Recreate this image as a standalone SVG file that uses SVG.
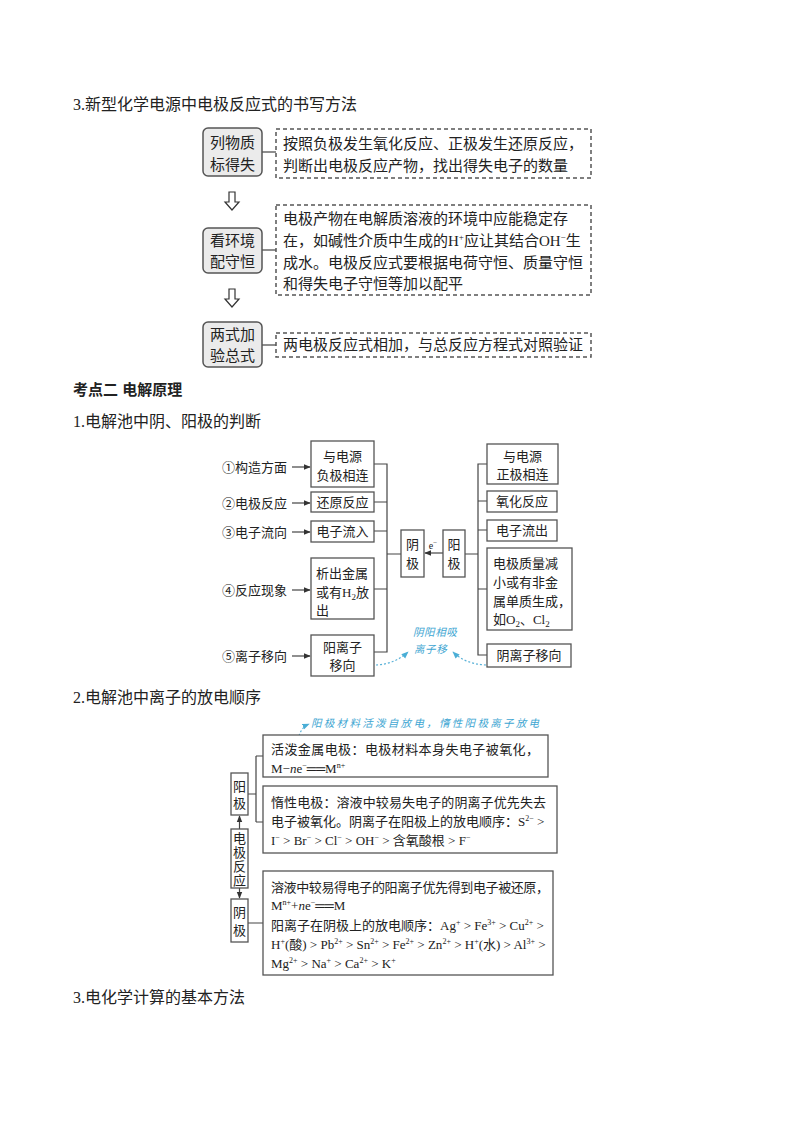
<svg xmlns="http://www.w3.org/2000/svg" width="794" height="1124" viewBox="0 0 794 1124">
<defs>
<style>
.t{font-family:"Liberation Serif","Noto Sans CJK SC",serif;fill:#222}
.h{font-size:16px}
.b15{font-size:15px}
.s13{font-size:13px}
.bold{font-family:"Liberation Sans","Noto Sans CJK SC",sans-serif;font-weight:bold;font-size:15px;fill:#222}
.gbox{fill:#ebebeb;stroke:#555;stroke-width:1.5}
.dbox{fill:none;stroke:#555;stroke-width:1.5;stroke-dasharray:4 3}
.box{fill:#fff;stroke:#555;stroke-width:1.3}
.ln{fill:none;stroke:#444;stroke-width:1.2}
.blue{font-family:"Noto Sans CJK SC",sans-serif;font-size:10.5px;fill:#3ea6d2;font-style:italic}
.bl{fill:none;stroke:#5ab2d8;stroke-width:1.2;stroke-dasharray:2 2}
.mid{text-anchor:middle}
</style>
<marker id="ah" viewBox="0 0 10 10" refX="9" refY="5" markerWidth="6" markerHeight="6" orient="auto-start-reverse">
<path d="M0,1 L10,5 L0,9 z" fill="#333"/>
</marker>
<marker id="bh" viewBox="0 0 10 10" refX="9" refY="5" markerWidth="6" markerHeight="6" orient="auto">
<path d="M0,1 L10,5 L0,9 z" fill="#4aaed6"/>
</marker>
</defs>
<rect width="794" height="1124" fill="#fff"/>

<!-- headings -->
<text class="t h" x="73" y="110">3.新型化学电源中电极反应式的书写方法</text>
<text class="bold" x="73" y="395">考点二 电解原理</text>
<text class="t h" x="73" y="427">1.电解池中阴、阳极的判断</text>
<text class="t h" x="73" y="703">2.电解池中离子的放电顺序</text>
<text class="t h" x="73" y="1003">3.电化学计算的基本方法</text>

<!-- Section 1 -->
<g id="connectors1">
<line class="ln" x1="262" y1="152" x2="276" y2="152"/>
<line class="ln" x1="262" y1="250" x2="276" y2="250"/>
<line class="ln" x1="262" y1="345" x2="276" y2="345"/>
<path d="M229,192 h6 v10 h4 l-7,8 l-7,-8 h4 z" fill="#fff" stroke="#333" stroke-width="1.2"/>
<path d="M229,289 h6 v10 h4 l-7,8 l-7,-8 h4 z" fill="#fff" stroke="#333" stroke-width="1.2"/>
</g>
<g id="step1">
<rect class="gbox" x="203" y="128" width="59" height="48" rx="5"/>
<text class="t b15 mid" x="232.5" y="148">列物质</text>
<text class="t b15 mid" x="232.5" y="170">标得失</text>
</g>
<g id="desc1">
<rect class="dbox" x="276" y="129" width="315" height="49"/>
<text class="t b15" x="283" y="149">按照负极发生氧化反应、正极发生还原反应，</text>
<text class="t b15" x="283" y="171">判断出电极反应产物，找出得失电子的数量</text>
</g>
<g id="step2">
<rect class="gbox" x="203" y="228" width="59" height="45" rx="5"/>
<text class="t b15 mid" x="232.5" y="246">看环境</text>
<text class="t b15 mid" x="232.5" y="267">配守恒</text>
</g>
<g id="desc2">
<rect class="dbox" x="276" y="205" width="315" height="90"/>
<text class="t b15" x="283" y="224">电极产物在电解质溶液的环境中应能稳定存</text>
<text class="t b15" x="283" y="246">在，如碱性介质中生成的H<tspan dy="-6" font-size="9">+</tspan><tspan dy="6">应让其结合OH</tspan><tspan dy="-6" font-size="9">−</tspan><tspan dy="6">生</tspan></text>
<text class="t b15" x="283" y="268">成水。电极反应式要根据电荷守恒、质量守恒</text>
<text class="t b15" x="283" y="289">和得失电子守恒等加以配平</text>
</g>
<g id="step3">
<rect class="gbox" x="203" y="322" width="59" height="45" rx="5"/>
<text class="t b15 mid" x="232.5" y="340">两式加</text>
<text class="t b15 mid" x="232.5" y="361">验总式</text>
</g>
<g id="desc3">
<rect class="dbox" x="276" y="333" width="315" height="24"/>
<text class="t b15" x="283" y="350">两电极反应式相加，与总反应方程式对照验证</text>
</g>

<!-- Section 2 diagram -->
<g id="connectors2">
<line class="ln" x1="292" y1="467" x2="310" y2="467" marker-end="url(#ah)"/>
<line class="ln" x1="292" y1="503" x2="310" y2="503" marker-end="url(#ah)"/>
<line class="ln" x1="292" y1="532" x2="310" y2="532" marker-end="url(#ah)"/>
<line class="ln" x1="292" y1="590" x2="310" y2="590" marker-end="url(#ah)"/>
<line class="ln" x1="292" y1="656" x2="310" y2="656" marker-end="url(#ah)"/>
<path class="ln" d="M374,464 H387 V652 H374 M374,502 H387 M374,531 H387 M374,589 H387 M387,554 H401"/>
<path class="ln" d="M487,464 H478 V655 H487 M487,501 H478 M487,530 H478 M487,589 H478 M465,554 H478"/>
<line class="ln" x1="443" y1="553" x2="425" y2="553" marker-end="url(#ah)"/>
<path class="bl" d="M376,665 Q395,664 408,652" marker-end="url(#bh)"/>
<path class="bl" d="M486,665 Q465,664 453,652" marker-end="url(#bh)"/>
</g>
<g id="left-labels">
<text class="t s13" x="222" y="472">①构造方面</text>
<text class="t s13" x="222" y="508">②电极反应</text>
<text class="t s13" x="222" y="537">③电子流向</text>
<text class="t s13" x="222" y="595">④反应现象</text>
<text class="t s13" x="222" y="661">⑤离子移向</text>
</g>
<g id="c1">
<rect class="box" x="311" y="441" width="63" height="46"/>
<text class="t s13 mid" x="342.5" y="461">与电源</text>
<text class="t s13 mid" x="342.5" y="480">负极相连</text>
</g>
<g id="c2">
<rect class="box" x="311" y="492" width="63" height="20"/>
<text class="t s13 mid" x="342.5" y="507">还原反应</text>
</g>
<g id="c3">
<rect class="box" x="311" y="521" width="63" height="21"/>
<text class="t s13 mid" x="342.5" y="536">电子流入</text>
</g>
<g id="c4">
<rect class="box" x="311" y="558" width="63" height="61"/>
<text class="t s13" x="316" y="578">析出金属</text>
<text class="t s13" x="316" y="597">或有H<tspan dy="3" font-size="9">2</tspan><tspan dy="-3">放</tspan></text>
<text class="t s13" x="316" y="615">出</text>
</g>
<g id="c5">
<rect class="box" x="311" y="635" width="63" height="41"/>
<text class="t s13 mid" x="342.5" y="652">阳离子</text>
<text class="t s13 mid" x="342.5" y="670">移向</text>
</g>
<g id="cathode">
<rect class="box" x="401" y="530" width="23" height="47"/>
<text class="t s13 mid" x="412.5" y="549">阴</text>
<text class="t s13 mid" x="412.5" y="568">极</text>
</g>
<text class="t mid" x="433" y="549" font-size="10">e<tspan dy="-4" font-size="7">−</tspan></text>
<g id="anode">
<rect class="box" x="443" y="530" width="22" height="47"/>
<text class="t s13 mid" x="454" y="549">阳</text>
<text class="t s13 mid" x="454" y="568">极</text>
</g>
<g id="a1">
<rect class="box" x="487" y="444" width="71" height="40"/>
<text class="t s13 mid" x="522.5" y="461">与电源</text>
<text class="t s13 mid" x="522.5" y="479">正极相连</text>
</g>
<g id="a2">
<rect class="box" x="487" y="491" width="70" height="21"/>
<text class="t s13 mid" x="522" y="506">氧化反应</text>
</g>
<g id="a3">
<rect class="box" x="487" y="520" width="70" height="21"/>
<text class="t s13 mid" x="522" y="535">电子流出</text>
</g>
<g id="a4">
<rect class="box" x="487" y="548" width="85" height="82"/>
<text class="t s13" x="493" y="568">电极质量减</text>
<text class="t s13" x="493" y="587">小或有非金</text>
<text class="t s13" x="493" y="606">属单质生成，</text>
<text class="t s13" x="493" y="624">如O<tspan dy="3" font-size="9">2</tspan><tspan dy="-3">、Cl</tspan><tspan dy="3" font-size="9">2</tspan></text>
</g>
<g id="a5">
<rect class="box" x="487" y="644" width="84" height="23"/>
<text class="t s13 mid" x="529" y="660">阴离子移向</text>
</g>
<g id="note1">
<text class="blue" x="413" y="636" letter-spacing="0.6">阴阳相吸</text>
<text class="blue" x="414" y="653" letter-spacing="0.6">离子移</text>
</g>

<!-- Section 3 diagram -->
<g id="connectors3">
<path class="ln" d="M247,794 H256 M256,756 V822 M256,756 H263 M256,822 H263 M247,923 H263"/>
<line class="ln" x1="239.5" y1="829" x2="239.5" y2="816" marker-end="url(#ah)"/>
<line class="ln" x1="239.5" y1="888" x2="239.5" y2="898" marker-end="url(#ah)"/>
<path class="bl" d="M298,740 Q300,728 309,724" marker-end="url(#bh)"/>
</g>
<text class="blue" x="311" y="727" letter-spacing="2.3">阳极材料活泼自放电，惰性阳极离子放电</text>
<g id="yangji">
<rect class="box" x="231" y="773" width="17" height="42"/>
<text class="t s13 mid" x="239.5" y="791">阳</text>
<text class="t s13 mid" x="239.5" y="808">极</text>
</g>
<g id="dianji">
<rect class="box" x="231" y="829" width="17" height="59"/>
<text class="t s13 mid" x="239.5" y="843">电</text>
<text class="t s13 mid" x="239.5" y="857">极</text>
<text class="t s13 mid" x="239.5" y="871">反</text>
<text class="t s13 mid" x="239.5" y="885">应</text>
</g>
<g id="yinji">
<rect class="box" x="231" y="899" width="17" height="43"/>
<text class="t s13 mid" x="239.5" y="917">阴</text>
<text class="t s13 mid" x="239.5" y="935">极</text>
</g>
<g id="boxA">
<rect class="box" x="263" y="735" width="285" height="42"/>
<text class="t s13" x="271" y="754" textLength="268">活泼金属电极：电极材料本身失电子被氧化，</text>
<text class="t s13" x="271" y="773">M−<tspan font-style="italic">n</tspan>e<tspan dy="-5" font-size="8">−</tspan><tspan dy="5">══M</tspan><tspan dy="-5" font-size="8">n+</tspan></text>
</g>
<g id="boxB">
<rect class="box" x="263" y="786" width="294" height="67"/>
<text class="t s13" x="271" y="807" textLength="275">惰性电极：溶液中较易失电子的阴离子优先失去</text>
<text class="t s13" x="271" y="826">电子被氧化。阴离子在阳极上的放电顺序：S<tspan dy="-5" font-size="8">2−</tspan><tspan dy="5"> &gt;</tspan></text>
<text class="t s13" x="271" y="845">I<tspan dy="-5" font-size="8">−</tspan><tspan dy="5"> &gt; Br</tspan><tspan dy="-5" font-size="8">−</tspan><tspan dy="5"> &gt; Cl</tspan><tspan dy="-5" font-size="8">−</tspan><tspan dy="5"> &gt; OH</tspan><tspan dy="-5" font-size="8">−</tspan><tspan dy="5"> &gt; 含氧酸根 &gt; F</tspan><tspan dy="-5" font-size="8">−</tspan></text>
</g>
<g id="boxC">
<rect class="box" x="263" y="871" width="290" height="104"/>
<text class="t s13" x="271" y="892" textLength="278">溶液中较易得电子的阳离子优先得到电子被还原，</text>
<text class="t s13" x="271" y="910">M<tspan dy="-5" font-size="8">n+</tspan><tspan dy="5">+</tspan><tspan font-style="italic">n</tspan>e<tspan dy="-5" font-size="8">−</tspan><tspan dy="5">══M</tspan></text>
<text class="t s13" x="271" y="930">阳离子在阴极上的放电顺序：Ag<tspan dy="-5" font-size="8">+</tspan><tspan dy="5"> &gt; Fe</tspan><tspan dy="-5" font-size="8">3+</tspan><tspan dy="5"> &gt; Cu</tspan><tspan dy="-5" font-size="8">2+</tspan><tspan dy="5"> &gt;</tspan></text>
<text class="t s13" x="271" y="949">H<tspan dy="-5" font-size="8">+</tspan><tspan dy="5">(酸) &gt; Pb</tspan><tspan dy="-5" font-size="8">2+</tspan><tspan dy="5"> &gt; Sn</tspan><tspan dy="-5" font-size="8">2+</tspan><tspan dy="5"> &gt; Fe</tspan><tspan dy="-5" font-size="8">2+</tspan><tspan dy="5"> &gt; Zn</tspan><tspan dy="-5" font-size="8">2+</tspan><tspan dy="5"> &gt; H</tspan><tspan dy="-5" font-size="8">+</tspan><tspan dy="5">(水) &gt; Al</tspan><tspan dy="-5" font-size="8">3+</tspan><tspan dy="5"> &gt;</tspan></text>
<text class="t s13" x="271" y="968">Mg<tspan dy="-5" font-size="8">2+</tspan><tspan dy="5"> &gt; Na</tspan><tspan dy="-5" font-size="8">+</tspan><tspan dy="5"> &gt; Ca</tspan><tspan dy="-5" font-size="8">2+</tspan><tspan dy="5"> &gt; K</tspan><tspan dy="-5" font-size="8">+</tspan></text>
</g>
</svg>
